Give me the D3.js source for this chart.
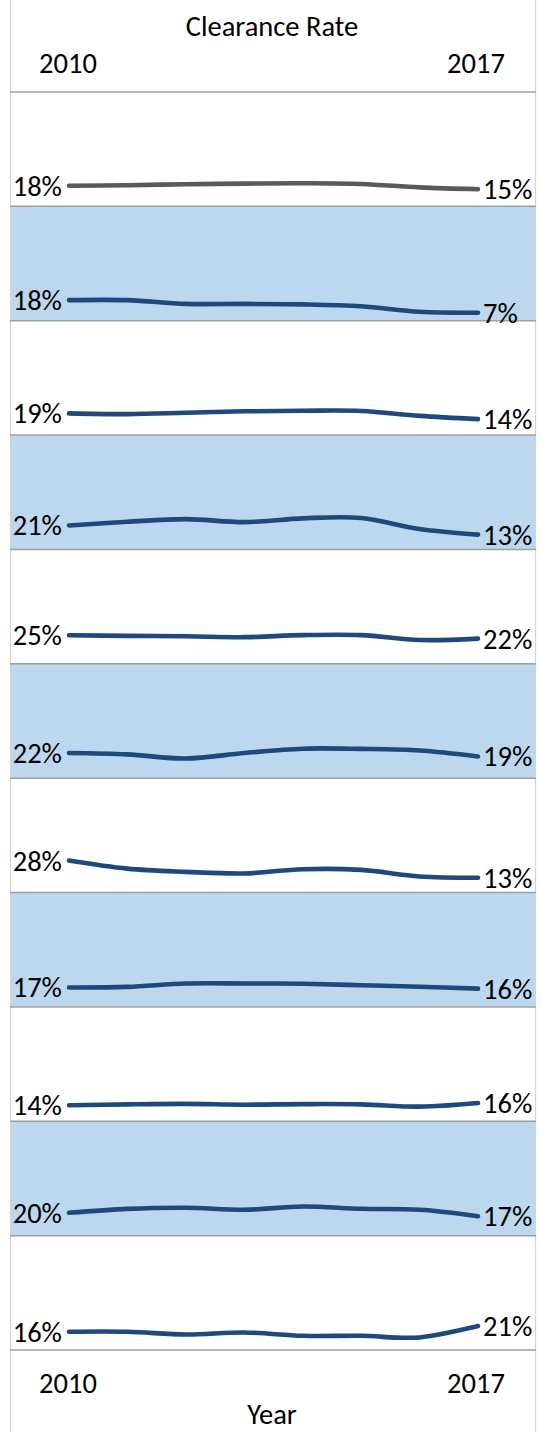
<!DOCTYPE html>
<html>
<head>
<meta charset="utf-8">
<script src="https://cdn.jsdelivr.net/npm/d3@7"></script>
<style>
  html, body { margin: 0; padding: 0; background: #fff; }
  svg { display: block; }
  text { font-family: Carlito, Lato, "Open Sans", sans-serif; fill: #000; }
</style>
</head>
<body>
<svg id="chart" width="543" height="1432"></svg>
<script>
// ---- data ----
const years = [2010, 2011, 2012, 2013, 2014, 2015, 2016, 2017];
const row1  = [18, 18.5, 19.4, 19.9, 20.2, 19.6, 16.6, 15];
const row2  = [18, 18, 14.7, 14.7, 14.3, 12.6, 7.8, 7];
const row3  = [19, 18.3, 19.5, 20.8, 21.3, 21.1, 16.8, 14];
const row4  = [21, 24.2, 26.5, 23.9, 27.2, 27.5, 17.9, 13];
const row5  = [25, 24.4, 24.1, 23.3, 25.1, 25.1, 20.8, 22];
const row6  = [22, 20.8, 17.2, 22, 25.8, 25.6, 24.2, 19];
const row7  = [28, 20.9, 18.1, 16.7, 20.4, 19.8, 14.1, 13];
const row8  = [17, 17.5, 20.5, 20.5, 20.2, 19, 17.6, 16];
const row9  = [14, 14.8, 15.2, 14.5, 15, 14.8, 12.8, 16];
const row10 = [20, 23.4, 24.4, 22.6, 25.5, 23.5, 22.6, 17];
const row11 = [16, 16, 13.5, 15.3, 12.4, 12.4, 11, 21];
const rows = [row1, row2, row3, row4, row5, row6, row7, row8, row9, row10, row11];
const headerTitle = "Clearance Rate";
const footerTitle = "Year";

// ---- layout ----
const W = 543, H = 1432;
const left = 10, right = 535;
const top0 = 92, bottom0 = 1350;
const nRows = rows.length;
const rowH = (bottom0 - top0) / nRows;
const fs = 28.5;
const hfs = 28.5;

const svg = d3.select("#chart");

const x = d3.scalePoint().domain(years).range([69, 478]);

// bands
svg.selectAll("rect.band")
  .data(rows)
  .join("rect")
  .attr("class", "band")
  .attr("x", left)
  .attr("y", (d, i) => top0 + i * rowH)
  .attr("width", right - left)
  .attr("height", rowH)
  .attr("fill", (d, i) => i % 2 === 1 ? "#bdd7ee" : "#ffffff");

// vertical borders
svg.append("line").attr("x1", left + 0.5).attr("x2", left + 0.5).attr("y1", 0).attr("y2", H)
  .attr("stroke", "#d4d4d4").attr("stroke-width", 1.2);
svg.append("line").attr("x1", right + 0.5).attr("x2", right + 0.5).attr("y1", 0).attr("y2", H)
  .attr("stroke", "#d4d4d4").attr("stroke-width", 1.2);

// horizontal separators
const seps = d3.range(nRows + 1).map(i => top0 + i * rowH);
svg.selectAll("line.sep")
  .data(seps)
  .join("line")
  .attr("class", "sep")
  .attr("x1", left).attr("x2", right + 1)
  .attr("y1", d => d).attr("y2", d => d)
  .attr("stroke", "#a0a0a0").attr("stroke-width", 1.5);

const fmt = v => Math.round(v) + "%";

rows.forEach((vals, i) => {
  const yTop = top0 + i * rowH;
  const y = d3.scaleLinear().domain([0, 100]).range([yTop + rowH, yTop]);
  const pts = years.map((yr, j) => [x(yr), y(vals[j])]);
  const line = d3.line().curve(d3.curveCatmullRom.alpha(0.5));
  const g = svg.append("g");
  g.append("path")
    .attr("d", line(pts))
    .attr("fill", "none")
    .attr("stroke", i === 0 ? "#5a5a5a" : "#1f487c")
    .attr("stroke-width", 4.6)
    .attr("stroke-linecap", "round")
    .attr("stroke-linejoin", "round");
  g.append("text")
    .attr("x", x(years[0]) - 7)
    .attr("y", y(vals[0]) + 10)
    .attr("text-anchor", "end")
    .attr("font-size", fs)
    .text(fmt(vals[0]));
  g.append("text")
    .attr("x", x(years[years.length - 1]) + 5)
    .attr("y", y(vals[vals.length - 1]) + 10)
    .attr("text-anchor", "start")
    .attr("font-size", fs)
    .text(fmt(vals[vals.length - 1]));
});

// header
svg.append("text").attr("x", 272).attr("y", 36).attr("text-anchor", "middle")
  .attr("font-size", hfs).text(headerTitle);
svg.append("text").attr("x", x(years[0]) - 1).attr("y", 73).attr("text-anchor", "middle")
  .attr("font-size", hfs).text(years[0]);
svg.append("text").attr("x", x(years[years.length - 1]) - 2).attr("y", 73).attr("text-anchor", "middle")
  .attr("font-size", hfs).text(years[years.length - 1]);

// footer
svg.append("text").attr("x", x(years[0]) - 1).attr("y", 1393).attr("text-anchor", "middle")
  .attr("font-size", hfs).text(years[0]);
svg.append("text").attr("x", x(years[years.length - 1]) - 2).attr("y", 1393).attr("text-anchor", "middle")
  .attr("font-size", hfs).text(years[years.length - 1]);
svg.append("text").attr("x", 272).attr("y", 1424).attr("text-anchor", "middle")
  .attr("font-size", hfs).text(footerTitle);
</script>
</body>
</html>
